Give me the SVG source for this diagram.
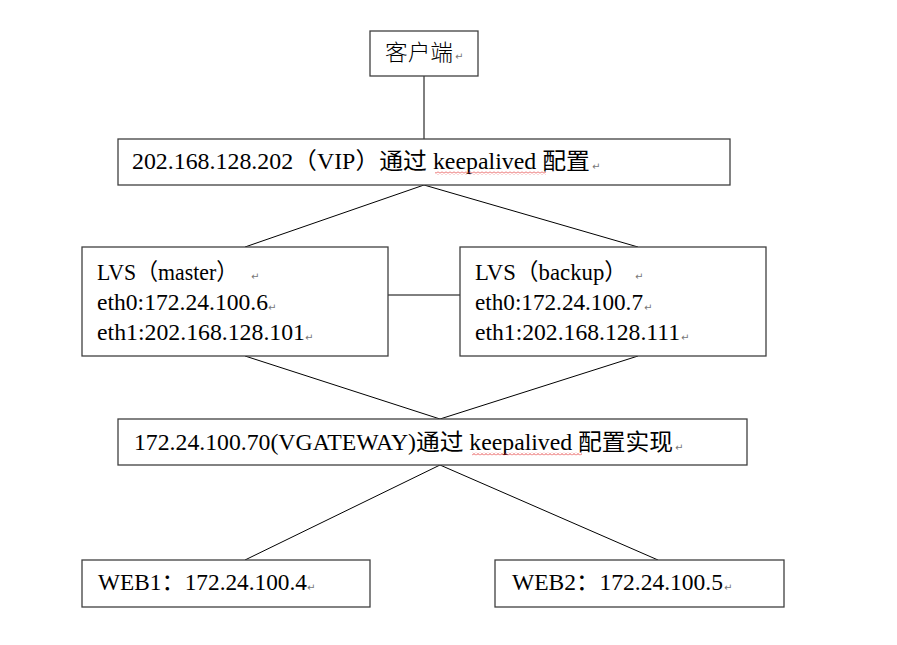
<svg xmlns="http://www.w3.org/2000/svg" width="897" height="645" viewBox="0 0 897 645">
  <defs>
    <pattern id="wave" patternUnits="userSpaceOnUse" width="4" height="3">
      <path d="M0,2.5 L2,0.5 L4,2.5" fill="none" stroke="#e02020" stroke-width="0.8"/>
    </pattern>
  </defs>
  <style>
    .box { fill: #ffffff; stroke: #404040; stroke-width: 1.3; }
    .t { font-family: "Liberation Serif", "Noto Sans CJK SC", serif; font-size: 23px; fill: #000; }
    .cjk { font-family: "Liberation Serif", "Noto Sans CJK SC", serif; font-size: 22px; font-weight: 300; fill: #000; }
    .pm { font-family: "DejaVu Sans", sans-serif; font-size: 10px; fill: #777; }
    .wv { fill: url(#wave); }
    .conn line { stroke: #000; stroke-width: 1; }
  </style>
  <rect width="897" height="645" fill="#ffffff"/>

  <g id="connectors" class="conn">
    <line x1="424" y1="76" x2="424" y2="139"/>
    <line x1="424" y1="185" x2="245" y2="247"/>
    <line x1="424" y1="185" x2="638" y2="247"/>
    <line x1="388" y1="295" x2="460" y2="295"/>
    <line x1="245" y1="356" x2="440" y2="419"/>
    <line x1="638" y1="356" x2="440" y2="419"/>
    <line x1="440" y1="465" x2="245" y2="560"/>
    <line x1="440" y1="465" x2="658" y2="560"/>
  </g>

  <g id="client">
    <rect class="box" x="370" y="31" width="108" height="45"/>
    <text class="cjk" x="385" y="60" textLength="68" lengthAdjust="spacingAndGlyphs">客户端</text>
    <text class="pm" x="455" y="60">↵</text>
  </g>

  <g id="vip">
    <rect class="box" x="118" y="139" width="612" height="46"/>
    <text class="t" x="132" y="169" textLength="458" lengthAdjust="spacingAndGlyphs">202.168.128.202（VIP）通过 keepalived 配置</text>
    <rect class="wv" x="435" y="171.5" width="111" height="3"/>
    <text class="pm" x="592" y="170">↵</text>
  </g>

  <g id="lvs-master">
    <rect class="box" x="82" y="247" width="306" height="109"/>
    <text class="t" x="97" y="280" textLength="141" lengthAdjust="spacingAndGlyphs">LVS（master）</text>
    <text class="pm" x="251" y="280">↵</text>
    <text class="t" x="97" y="310" textLength="171" lengthAdjust="spacingAndGlyphs">eth0:172.24.100.6</text>
    <text class="pm" x="268" y="311">↵</text>
    <text class="t" x="97" y="340" textLength="208" lengthAdjust="spacingAndGlyphs">eth1:202.168.128.101</text>
    <text class="pm" x="305" y="341">↵</text>
  </g>

  <g id="lvs-backup">
    <rect class="box" x="460" y="247" width="306" height="109"/>
    <text class="t" x="475" y="280" textLength="152" lengthAdjust="spacingAndGlyphs">LVS（backup）</text>
    <text class="pm" x="635" y="280">↵</text>
    <text class="t" x="475" y="310" textLength="168" lengthAdjust="spacingAndGlyphs">eth0:172.24.100.7</text>
    <text class="pm" x="644" y="311">↵</text>
    <text class="t" x="475" y="340" textLength="205" lengthAdjust="spacingAndGlyphs">eth1:202.168.128.111</text>
    <text class="pm" x="681" y="341">↵</text>
  </g>

  <g id="vgateway">
    <rect class="box" x="118" y="419" width="629" height="46"/>
    <text class="t" x="134" y="450" textLength="539" lengthAdjust="spacingAndGlyphs">172.24.100.70(VGATEWAY)通过 keepalived 配置实现</text>
    <rect class="wv" x="472" y="452.5" width="110" height="3"/>
    <text class="pm" x="675" y="451">↵</text>
  </g>

  <g id="web1">
    <rect class="box" x="82" y="560" width="288" height="47"/>
    <text class="t" x="98" y="590" textLength="209" lengthAdjust="spacingAndGlyphs">WEB1：172.24.100.4</text>
    <text class="pm" x="307" y="591">↵</text>
  </g>

  <g id="web2">
    <rect class="box" x="495" y="560" width="289" height="47"/>
    <text class="t" x="512" y="590" textLength="211" lengthAdjust="spacingAndGlyphs">WEB2：172.24.100.5</text>
    <text class="pm" x="724" y="591">↵</text>
  </g>
</svg>
